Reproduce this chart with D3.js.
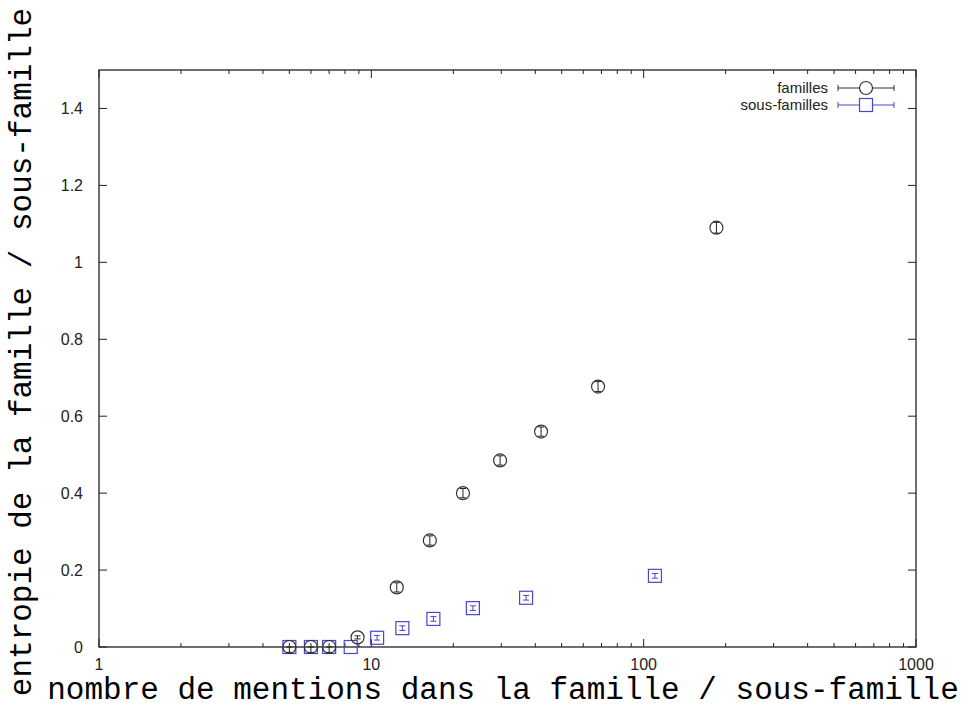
<!DOCTYPE html>
<html>
<head>
<meta charset="utf-8">
<script src="https://cdn.jsdelivr.net/npm/d3@7"></script>
<style>
body{margin:0;background:#fff;}
svg{display:block;}
.tick-label{font-family:"Liberation Sans",Arial,sans-serif;font-size:16px;fill:#222;}
.title{font-family:"Liberation Mono","Courier New",monospace;font-size:31px;fill:#000;}
</style>
</head>
<body>
<div id="chart"></div>
<script>
// familles (circles)
const famX=[5,6,7,8.9,12.4,16.4,21.7,29.7,42,68,185];
const famY=[0,0,0,0.025,0.155,0.277,0.40,0.485,0.56,0.677,1.09];
const famLo=[-0.014,-0.014,-0.014,0.021,0.143,0.265,0.388,0.473,0.548,0.664,1.076];
const famHi=[0,0,0,0.029,0.167,0.289,0.412,0.497,0.572,0.690,1.104];
// sous-familles (squares)
const subX=[5,6,7,8.4,10.5,13,16.9,23.6,37,110];
const subY=[0,0,0,0,0.024,0.049,0.073,0.101,0.128,0.185];
const subLo=[0,0,0,0,0.018,0.043,0.067,0.095,0.122,0.179];
const subHi=[0,0,0,0,0.030,0.055,0.079,0.107,0.134,0.191];

const xTicks=[1,10,100,1000];
const yTicks=[0,0.2,0.4,0.6,0.8,1,1.2,1.4];

const W=970,H=708;
const mLeft=99,mRight=916,mTop=70,mBottom=647;
const blue="#4848c8";

const svg=d3.select("#chart").append("svg").attr("width",W).attr("height",H);

const x=d3.scaleLog().domain([1,1000]).range([mLeft,mRight]);
const y=d3.scaleLinear().domain([0,1.5]).range([mBottom,mTop]);

// frame
svg.append("rect").attr("x",mLeft).attr("y",mTop)
  .attr("width",mRight-mLeft).attr("height",mBottom-mTop)
  .attr("fill","none").attr("stroke","#222").attr("stroke-width",1.3);

// ticks (inward, mirrored)
const minor=[];
for(let d=1;d<1000;d*=10){for(let k=2;k<10;k++)minor.push(d*k);}
const tk=svg.append("g").attr("stroke","#222").attr("stroke-width",1);
xTicks.forEach(v=>{
  tk.append("line").attr("x1",x(v)).attr("x2",x(v)).attr("y1",mBottom).attr("y2",mBottom-8);
  tk.append("line").attr("x1",x(v)).attr("x2",x(v)).attr("y1",mTop).attr("y2",mTop+8);
});
minor.forEach(v=>{
  tk.append("line").attr("x1",x(v)).attr("x2",x(v)).attr("y1",mBottom).attr("y2",mBottom-4);
  tk.append("line").attr("x1",x(v)).attr("x2",x(v)).attr("y1",mTop).attr("y2",mTop+4);
});
yTicks.forEach(v=>{
  tk.append("line").attr("x1",mLeft).attr("x2",mLeft+8).attr("y1",y(v)).attr("y2",y(v));
  tk.append("line").attr("x1",mRight).attr("x2",mRight-8).attr("y1",y(v)).attr("y2",y(v));
});

// tick labels
svg.selectAll(".xl").data(xTicks).enter().append("text")
  .attr("class","tick-label").attr("text-anchor","middle")
  .attr("x",d=>x(d)).attr("y",mBottom+23).text(d=>d);
svg.selectAll(".yl").data(yTicks).enter().append("text")
  .attr("class","tick-label").attr("text-anchor","end")
  .attr("x",mLeft-16).attr("y",d=>y(d)+6).text(d=>d);

// titles
svg.append("text").attr("class","title").attr("text-anchor","middle")
  .attr("x",503).attr("y",699)
  .text("nombre de mentions dans la famille / sous-famille");
svg.append("text").attr("class","title").attr("text-anchor","middle")
  .attr("transform","translate(31,352) rotate(-90)")
  .text("entropie de la famille / sous-famille");

function errBar(g,cx,y1,y2,color){
  if(Math.abs(y1-y2)<0.5)return;
  g.append("line").attr("x1",cx).attr("x2",cx).attr("y1",y1).attr("y2",y2).attr("stroke",color);
  g.append("line").attr("x1",cx-3).attr("x2",cx+3).attr("y1",y1).attr("y2",y1).attr("stroke",color);
  g.append("line").attr("x1",cx-3).attr("x2",cx+3).attr("y1",y2).attr("y2",y2).attr("stroke",color);
}

// sous-familles
const gs=svg.append("g");
subX.forEach((v,i)=>{
  const cx=x(v),cy=y(subY[i]);
  gs.append("rect").attr("x",cx-6.5).attr("y",cy-6.5).attr("width",13).attr("height",13)
    .attr("fill","none").attr("stroke",blue).attr("stroke-width",1.2);
  errBar(gs,cx,y(subLo[i]),y(subHi[i]),blue);
});

// familles
const gf=svg.append("g");
famX.forEach((v,i)=>{
  const cx=x(v),cy=y(famY[i]);
  gf.append("circle").attr("cx",cx).attr("cy",cy).attr("r",6.5)
    .attr("fill","none").attr("stroke","#333").attr("stroke-width",1.2);
  errBar(gf,cx,y(famLo[i]),y(famHi[i]),"#222");
});

// legend
const lg=svg.append("g");
const legItems=[{label:"familles",color:"#333",shape:"circle"},{label:"sous-familles",color:blue,shape:"square"}];
legItems.forEach((d,i)=>{
  const ly=88+i*17;
  lg.append("text").attr("class","tick-label").style("font-size","15px")
    .attr("text-anchor","end").attr("x",828).attr("y",ly+5).text(d.label);
  lg.append("line").attr("x1",838).attr("x2",894).attr("y1",ly).attr("y2",ly).attr("stroke",d.color);
  lg.append("line").attr("x1",838).attr("x2",838).attr("y1",ly-3).attr("y2",ly+3).attr("stroke",d.color);
  lg.append("line").attr("x1",894).attr("x2",894).attr("y1",ly-3).attr("y2",ly+3).attr("stroke",d.color);
  if(d.shape==="circle"){
    lg.append("circle").attr("cx",866).attr("cy",ly).attr("r",6.5)
      .attr("fill","#fff").attr("stroke",d.color).attr("stroke-width",1.2);
  }else{
    lg.append("rect").attr("x",859.5).attr("y",ly-6.5).attr("width",13).attr("height",13)
      .attr("fill","#fff").attr("stroke",d.color).attr("stroke-width",1.2);
  }
});
</script>
</body>
</html>
